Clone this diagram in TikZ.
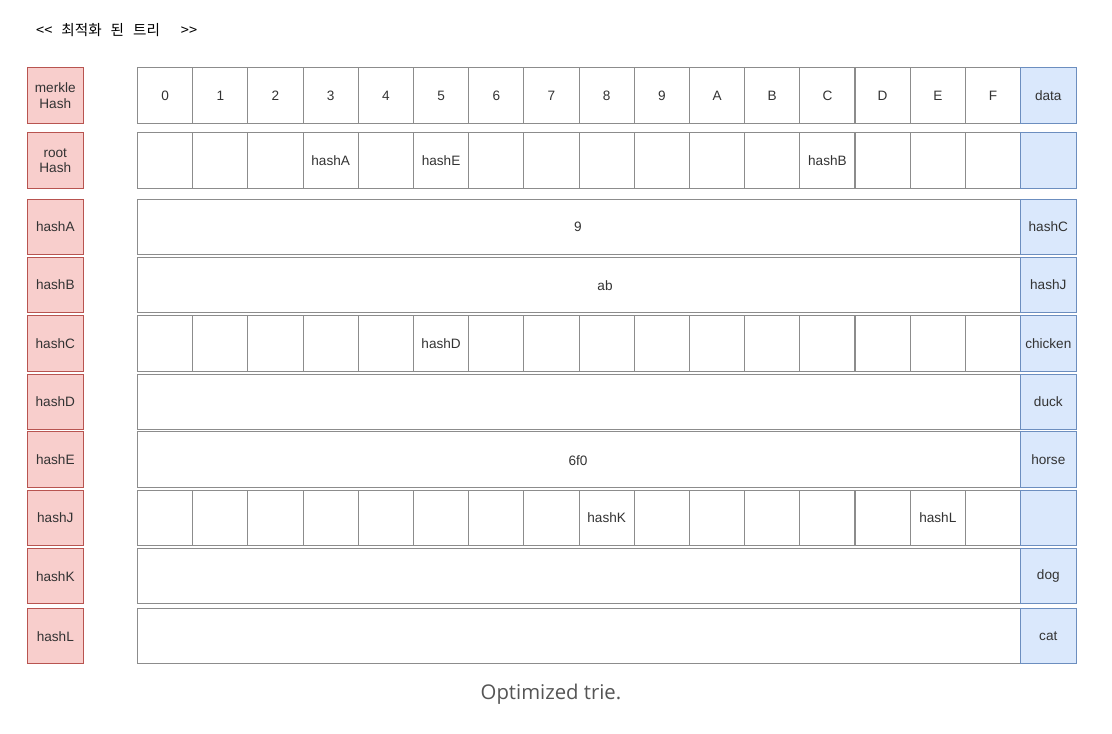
\documentclass[tikz,border=0pt]{standalone}
\usepackage{fontspec}
\setmainfont{Liberation Sans}
\newfontfamily\cjk{Noto Sans CJK KR}
\newfontfamily\capfont{Open Sans}
\definecolor{redfill}{HTML}{F8CECC}
\definecolor{redline}{HTML}{B85450}
\definecolor{bluefill}{HTML}{DAE8FC}
\definecolor{blueline}{HTML}{6C8EBF}
\definecolor{gridgray}{HTML}{8C8C8C}
\definecolor{txt}{HTML}{333333}
\definecolor{captxt}{HTML}{555555}
\begin{document}
\begin{tikzpicture}[x=1pt,y=-1pt,
  every node/.style={text=txt, font=\fontsize{13.6}{15.5}\selectfont},
  cellbox/.style={draw=gridgray, line width=1.1pt, fill=white, inner sep=0pt, anchor=north west, minimum width=55.19pt},
  rowbox/.style={draw=gridgray, line width=1.1pt, fill=white, inner sep=0pt, anchor=north west, minimum width=883pt},
  keybox/.style={draw=redline, line width=1.1pt, fill=redfill, inner sep=0pt, anchor=north west, minimum width=55.5pt, align=center},
  valbox/.style={draw=blueline, line width=1.1pt, fill=bluefill, inner sep=0pt, anchor=north west, minimum width=55.5pt},
  lbl/.style={inner sep=0pt}
]
\useasboundingbox[fill=white] (0,0) rectangle (1112,734);

% title
\node[anchor=west, inner sep=0pt, font=\cjk\fontsize{14.6}{17}\selectfont, text=black] (title) at (36,30) {<{}<\hspace{9pt}최적화\hspace{9pt}된\hspace{9pt}트리\hspace{21pt}>{}>};

% key (red) boxes
\foreach \r/\t/\h/\key in {
  1/67.3/55.7/{merkle\\Hash},
  2/132/56/{root\\Hash},
  3/198.5/55.5/hashA,
  4/256.7/55.6/hashB,
  5/315.3/55.4/hashC,
  6/373.7/55.6/hashD,
  7/431.3/55.4/hashE,
  8/490/55/hashJ,
  9/548.3/55/hashK,
  10/608/55.3/hashL} {
  \node[keybox, minimum height=\h pt] (k\r) at (27,\t) {\key};
}

% full-width rows
\node[rowbox, minimum height=55.5pt] (t3) at (137,198.5) {};
\node[rowbox, minimum height=55.6pt] (t4) at (137,256.7) {};
\node[rowbox, minimum height=55.6pt] (t6) at (137,373.7) {};
\node[rowbox, minimum height=55.4pt] (t7) at (137,431.3) {};
\node[rowbox, minimum height=55pt] (t9) at (137,548.3) {};
\node[rowbox, minimum height=55.3pt] (t10) at (137,608) {};

% cell rows
\foreach \r/\t/\h in {1/67.3/55.7, 2/132/56, 5/315.3/55.4, 8/490/55} {
  \foreach \k in {0,...,15} {
    \node[cellbox, minimum height=\h pt] (c\r-\k) at ({137+55.19*\k},\t) {};
  }
}

% value boxes
\foreach \r/\t/\h/\val in {
  1/67.3/55.7/data,
  2/132/56/{},
  3/198.5/55.5/hashC,
  4/256.7/55.6/hashJ,
  5/315.3/55.4/chicken,
  6/373.7/55.6/duck,
  7/431.3/55.4/horse,
  8/490/55/{},
  9/548.3/55/dog,
  10/608/55.3/cat} {
  \node[valbox, minimum height=\h pt] (v\r) at (1020,\t) {\val};
}

% header labels
\foreach \k/\lab in {0/0,1/1,2/2,3/3,4/4,5/5,6/6,7/7,8/8,9/9,10/A,11/B,12/C,13/D,14/E,15/F} {
  \node[lbl] (h\k) at (c1-\k.center) {\lab};
}

% row contents
\node[lbl] (p3) at (c2-3.center) {hashA};
\node[lbl] (p5) at (c2-5.center) {hashE};
\node[lbl] (p12) at (c2-12.center) {hashB};
\node[lbl] (q5) at (c5-5.center) {hashD};
\node[lbl] (s8) at (c8-8.center) {hashK};
\node[lbl] (s14) at (c8-14.center) {hashL};
\node[lbl] (n9) at (578,227) {9};
\node[lbl] (nab) at (605,286) {ab};
\node[lbl] (n6f0) at (578,461) {6f0};

% caption
\node[inner sep=0pt, text=captxt, font=\capfont\fontsize{20.3}{24}\selectfont] (cap) at (551,694) {Optimized trie.};
\end{tikzpicture}
\end{document}
